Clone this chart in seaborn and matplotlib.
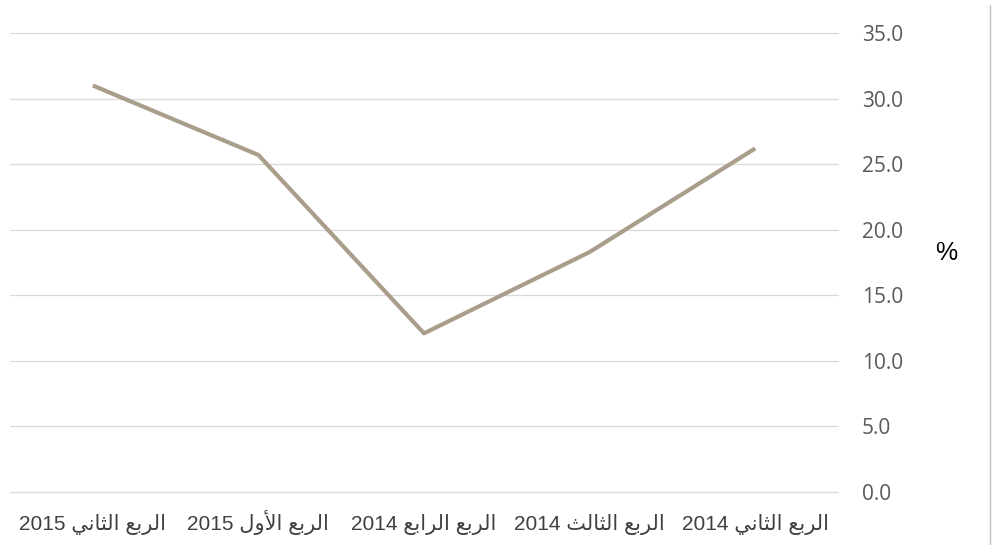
import numpy as np
import pandas as pd
import seaborn as sns
import matplotlib.pyplot as plt
import matplotlib.ticker as mticker
from matplotlib.lines import Line2D

# البيانات
quarters = ["الربع الثاني", "الربع الثالث", "الربع الرابع", "الربع الأول", "الربع الثاني"]
years = ["2014", "2014", "2014", "2015", "2015"]
values = [26.2, 18.3, 12.1, 25.7, 31.0]
y_ticks = [0, 5, 10, 15, 20, 25, 30, 35]

# matplotlib لا يشكّل الحروف العربية، فنحوّلها يدويا إلى الأشكال المتصلة
FORMS = {
    "ا": ("\uFE8D", "\uFE8E", None, None),
    "أ": ("\uFE83", "\uFE84", None, None),
    "ل": ("\uFEDD", "\uFEDE", "\uFEDF", "\uFEE0"),
    "ر": ("\uFEAD", "\uFEAE", None, None),
    "ب": ("\uFE8F", "\uFE90", "\uFE91", "\uFE92"),
    "ع": ("\uFEC9", "\uFECA", "\uFECB", "\uFECC"),
    "ث": ("\uFE99", "\uFE9A", "\uFE9B", "\uFE9C"),
    "ن": ("\uFEE5", "\uFEE6", "\uFEE7", "\uFEE8"),
    "ي": ("\uFEF1", "\uFEF2", "\uFEF3", "\uFEF4"),
    "و": ("\uFEED", "\uFEEE", None, None),
}
LAM_ALEF = {"ا": ("\uFEFB", "\uFEFC"), "أ": ("\uFEF7", "\uFEF8")}


def shape_word(word):
    units = []
    i = 0
    while i < len(word):
        if word[i] == "ل" and i + 1 < len(word) and word[i + 1] in LAM_ALEF:
            units.append(("LA", word[i + 1]))
            i += 2
        else:
            units.append(word[i])
            i += 1
    dual = [isinstance(u, str) and FORMS[u][2] is not None for u in units]
    out = ""
    for j, u in enumerate(units):
        prev = j > 0 and dual[j - 1]
        if isinstance(u, tuple):
            out += LAM_ALEF[u[1]][1 if prev else 0]
            continue
        nxt = j < len(units) - 1 and dual[j]
        if prev and nxt:
            out += FORMS[u][3]
        elif prev:
            out += FORMS[u][1]
        elif nxt:
            out += FORMS[u][2]
        else:
            out += FORMS[u][0]
    return out


def rtl_label(text, year):
    shaped = " ".join(shape_word(w) for w in text.split(" "))
    return year + " " + shaped[::-1]


labels = [rtl_label(q, y) for q, y in zip(quarters, years)]
df = pd.DataFrame({"pos": np.arange(len(values)), "value": values})

sns.set_style("white")
plt.rcParams["font.family"] = ["Liberation Sans", "DejaVu Sans"]

fig = plt.figure(figsize=(9.98, 5.45), dpi=100)
ax = fig.add_axes([0.010, 0.0972, 0.8297, 0.8422])

sns.lineplot(data=df, x="pos", y="value", sort=False, color="#A99E8B",
             linewidth=3.0, ax=ax, solid_capstyle="butt")

ax.set_xlim(-0.5, len(values) - 0.5)
ax.invert_xaxis()
ax.set_ylim(0, 35)
ax.set_yticks(y_ticks)
ax.yaxis.set_major_formatter(mticker.FormatStrFormatter("%.1f"))
ax.yaxis.tick_right()
ax.grid(axis="y", color="#D9D9D9", linewidth=0.9)
ax.grid(axis="x", visible=False)
for gl in ax.get_ygridlines():
    gl.set_clip_on(False)
ax.set_axisbelow(True)
for s in ax.spines.values():
    s.set_visible(False)

ax.set_xticks(df["pos"])
ax.set_xticklabels(labels, fontsize=15, color="#404040", va="baseline")
ax.tick_params(axis="x", length=0, pad=27)
ax.tick_params(axis="y", length=0, pad=17, labelsize=15, labelcolor="#595959")
for t in ax.get_yticklabels():
    t.set_fontfamily(["Open Sans", "DejaVu Sans"])
ax.set_xlabel("")
ax.set_ylabel("")

fig.text(0.948, 0.536, "%", fontsize=18, color="black", ha="center", va="center")
fig.add_artist(Line2D([0.992, 0.992], [0.0, 0.99], transform=fig.transFigure,
                      color="#BFBFBF", linewidth=1.0))

fig.savefig("out.png", dpi=100)
